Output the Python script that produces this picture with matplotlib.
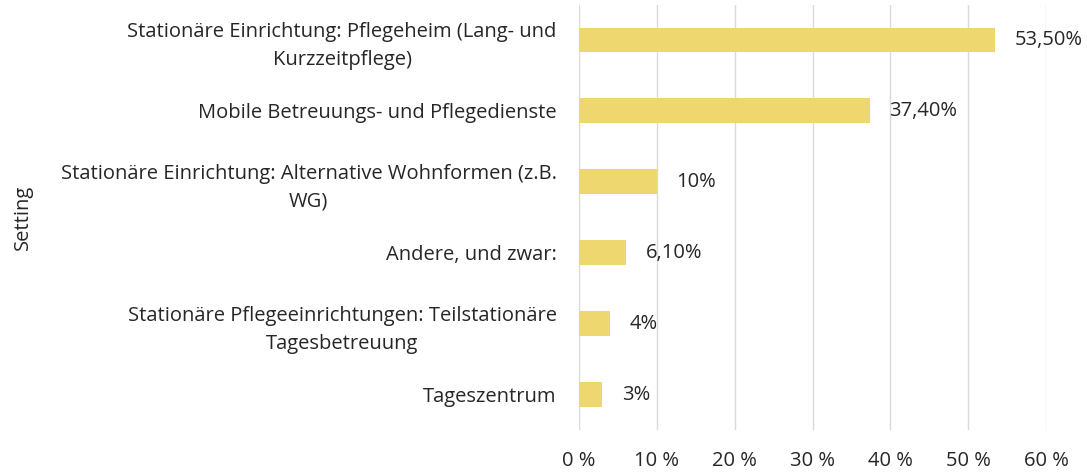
import matplotlib
matplotlib.use("Agg")
import matplotlib.pyplot as plt

categories = [
    "Stationäre Einrichtung: Pflegeheim (Lang- und\nKurzzeitpflege)",
    "Mobile Betreuungs- und Pflegedienste",
    "Stationäre Einrichtung: Alternative Wohnformen (z.B.\nWG)",
    "Andere, und zwar:",
    "Stationäre Pflegeeinrichtungen: Teilstationäre\nTagesbetreuung",
    "Tageszentrum",
]
values = [53.5, 37.4, 10, 6.1, 4, 3]
value_labels = ["53,50%", "37,40%", "10%", "6,10%", "4%", "3%"]
xticks = [0, 10, 20, 30, 40, 50, 60]
xtick_labels = ["0 %", "10 %", "20 %", "30 %", "40 %", "50 %", "60 %"]

plt.rcParams['font.family'] = ['Open Sans', 'DejaVu Sans']
text_color = "#262626"
bar_color = "#EFD76F"
fs = 14.5

fig = plt.figure(figsize=(10.87, 4.72), dpi=100)
ax = fig.add_axes([579/1087, 42/472, (1046-579)/1087, (467.5-42)/472])

y = list(range(len(categories)))
ax.barh(y, values, height=0.35, color=bar_color, zorder=3)
for yi, v, lab in zip(y, values, value_labels):
    ax.annotate(lab, (v, yi), xytext=(14, 0), textcoords="offset points",
                va="center", ha="left", fontsize=fs, color=text_color)

ax.set_ylim(len(categories) - 0.5, -0.5)
ax.set_xlim(0, 60)
ax.set_yticks(y)
ax.set_yticklabels(categories, fontsize=fs, color=text_color,
                   multialignment="center", linespacing=1.5)
ax.set_xticks(xticks)
ax.set_xticklabels(xtick_labels, fontsize=fs, color=text_color)
ax.tick_params(axis="both", length=0)
ax.tick_params(axis="x", pad=15)
ax.tick_params(axis="y", pad=16)
ax.grid(axis="x", color="#D9D9D9", linewidth=1, zorder=0)
for s in ax.spines.values():
    s.set_visible(False)
ax.set_ylabel("Setting", fontsize=fs, color=text_color)
ax.yaxis.set_label_coords((33-579)/467, 0.5)

fig.savefig("out.png", dpi=100)
